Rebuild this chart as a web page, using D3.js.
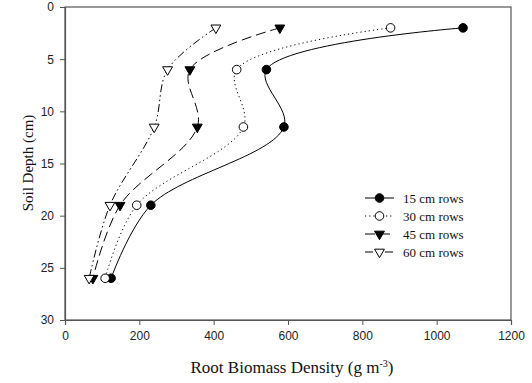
<!DOCTYPE html>
<html>
<head>
<meta charset="utf-8">
<script src="https://cdn.jsdelivr.net/npm/d3@7"></script>
<style>
  body { margin: 0; background: #fff; }
  .tick text { font-family: "Liberation Sans", Arial, sans-serif; font-size: 12px; fill: #222; }
  .title { font-family: "Liberation Serif", "Times New Roman", serif; fill: #111; }
  .leg { font-family: "Liberation Serif", "Times New Roman", serif; font-size: 13px; fill: #111; }
</style>
</head>
<body>
<script>
// soil depths (cm) where cores were taken
var depths = [2, 6, 11.5, 19, 26];

// root biomass density per row spacing (g m-3)
var rows15 = [1071, 542, 589, 231, 124];
var rows30 = [876, 462, 480, 193, 108];
var rows45 = [578, 336, 356, 148, 75];
var rows60 = [406, 276, 240, 121, 65];

var seriesNames = ["15 cm rows", "30 cm rows", "45 cm rows", "60 cm rows"];
var xTicks = [0, 200, 400, 600, 800, 1000, 1200];
var yTicks = [0, 5, 10, 15, 20, 25, 30];

var series = [
  {name: seriesNames[0], vals: rows15, dash: null, marker: "circle", fill: "#000"},
  {name: seriesNames[1], vals: rows30, dash: "1.2,3", marker: "circle", fill: "#fff"},
  {name: seriesNames[2], vals: rows45, dash: "10,5", marker: "tri", fill: "#000"},
  {name: seriesNames[3], vals: rows60, dash: "8,3,1.5,3,1.5,3", marker: "tri", fill: "#fff"}
];

var W = 532, H = 383;
var margin = {left: 65, right: 511, top: 7, bottom: 320};

var svg = d3.select("body").append("svg")
    .attr("width", W)
    .attr("height", H);

var x = d3.scaleLinear().domain([0, 1200]).range([margin.left, margin.right]);
var y = d3.scaleLinear().domain([0, 30]).range([margin.top, margin.bottom]);

// frame
svg.append("rect")
  .attr("x", margin.left).attr("y", margin.top)
  .attr("width", margin.right - margin.left).attr("height", margin.bottom - margin.top)
  .attr("fill", "none").attr("stroke", "#555").attr("stroke-width", 1.2);

var xAxis = svg.append("g")
  .attr("transform", "translate(0," + margin.bottom + ")")
  .call(d3.axisBottom(x).tickValues(xTicks).tickFormat(d3.format("d")).tickSize(5).tickPadding(6));
xAxis.select(".domain").attr("stroke", "#555").attr("stroke-width", 1.2);
xAxis.selectAll(".tick line").attr("stroke", "#555");

var yAxis = svg.append("g")
  .attr("transform", "translate(" + margin.left + ",0)")
  .call(d3.axisLeft(y).tickValues(yTicks).tickSize(5).tickPadding(6));
yAxis.select(".domain").attr("stroke", "#555").attr("stroke-width", 1.2);
yAxis.selectAll(".tick line").attr("stroke", "#555");

var line = d3.line()
  .x(function(d) { return x(d[0]) })
  .y(function(d) { return y(d[1]) })
  .curve(d3.curveCatmullRom.alpha(0.5));

var tri = d3.symbol().type(d3.symbolTriangle).size(42);

function marker(g, s, cx, cy) {
  if (s.marker == "circle") {
    g.append("circle")
      .attr("cx", cx).attr("cy", cy).attr("r", 4.3)
      .attr("fill", s.fill).attr("stroke", "#000").attr("stroke-width", 1);
  } else {
    g.append("path")
      .attr("d", tri)
      .attr("transform", "translate(" + cx + "," + cy + ") rotate(180)")
      .attr("fill", s.fill).attr("stroke", "#000").attr("stroke-width", 1);
  }
}

series.forEach(function(s) {
  var pts = s.vals.map(function(v, i) { return [v, depths[i]] });
  svg.append("path")
    .datum(pts)
    .attr("fill", "none")
    .attr("stroke", "#000")
    .attr("stroke-width", 1)
    .attr("stroke-dasharray", s.dash)
    .attr("d", line);
  var g = svg.append("g");
  pts.forEach(function(p) { marker(g, s, x(p[0]), y(p[1])) });
});

// legend
var lx = 365, ly = 198;
series.forEach(function(s, i) {
  var yy = ly + i * 18;
  svg.append("line")
    .attr("x1", lx).attr("x2", lx + 29)
    .attr("y1", yy).attr("y2", yy)
    .attr("stroke", "#000").attr("stroke-width", 1)
    .attr("stroke-dasharray", s.dash);
  marker(svg, s, lx + 14.5, yy);
  svg.append("text").attr("class", "leg")
    .attr("x", lx + 38).attr("y", yy + 4.5)
    .text(s.name);
});

// axis titles
var xt = svg.append("text").attr("class", "title")
  .attr("font-size", "17px")
  .attr("x", (margin.left + margin.right) / 2 + 4).attr("y", 373)
  .attr("text-anchor", "middle");
xt.append("tspan").text("Root Biomass Density (g m");
xt.append("tspan").attr("dy", -6).attr("font-size", "10px").text("-3");
xt.append("tspan").attr("dy", 6).text(")");

svg.append("text").attr("class", "title")
  .attr("font-size", "15px")
  .attr("transform", "translate(33,163) rotate(-90)")
  .attr("text-anchor", "middle")
  .text("Soil Depth (cm)");
</script>
</body>
</html>
